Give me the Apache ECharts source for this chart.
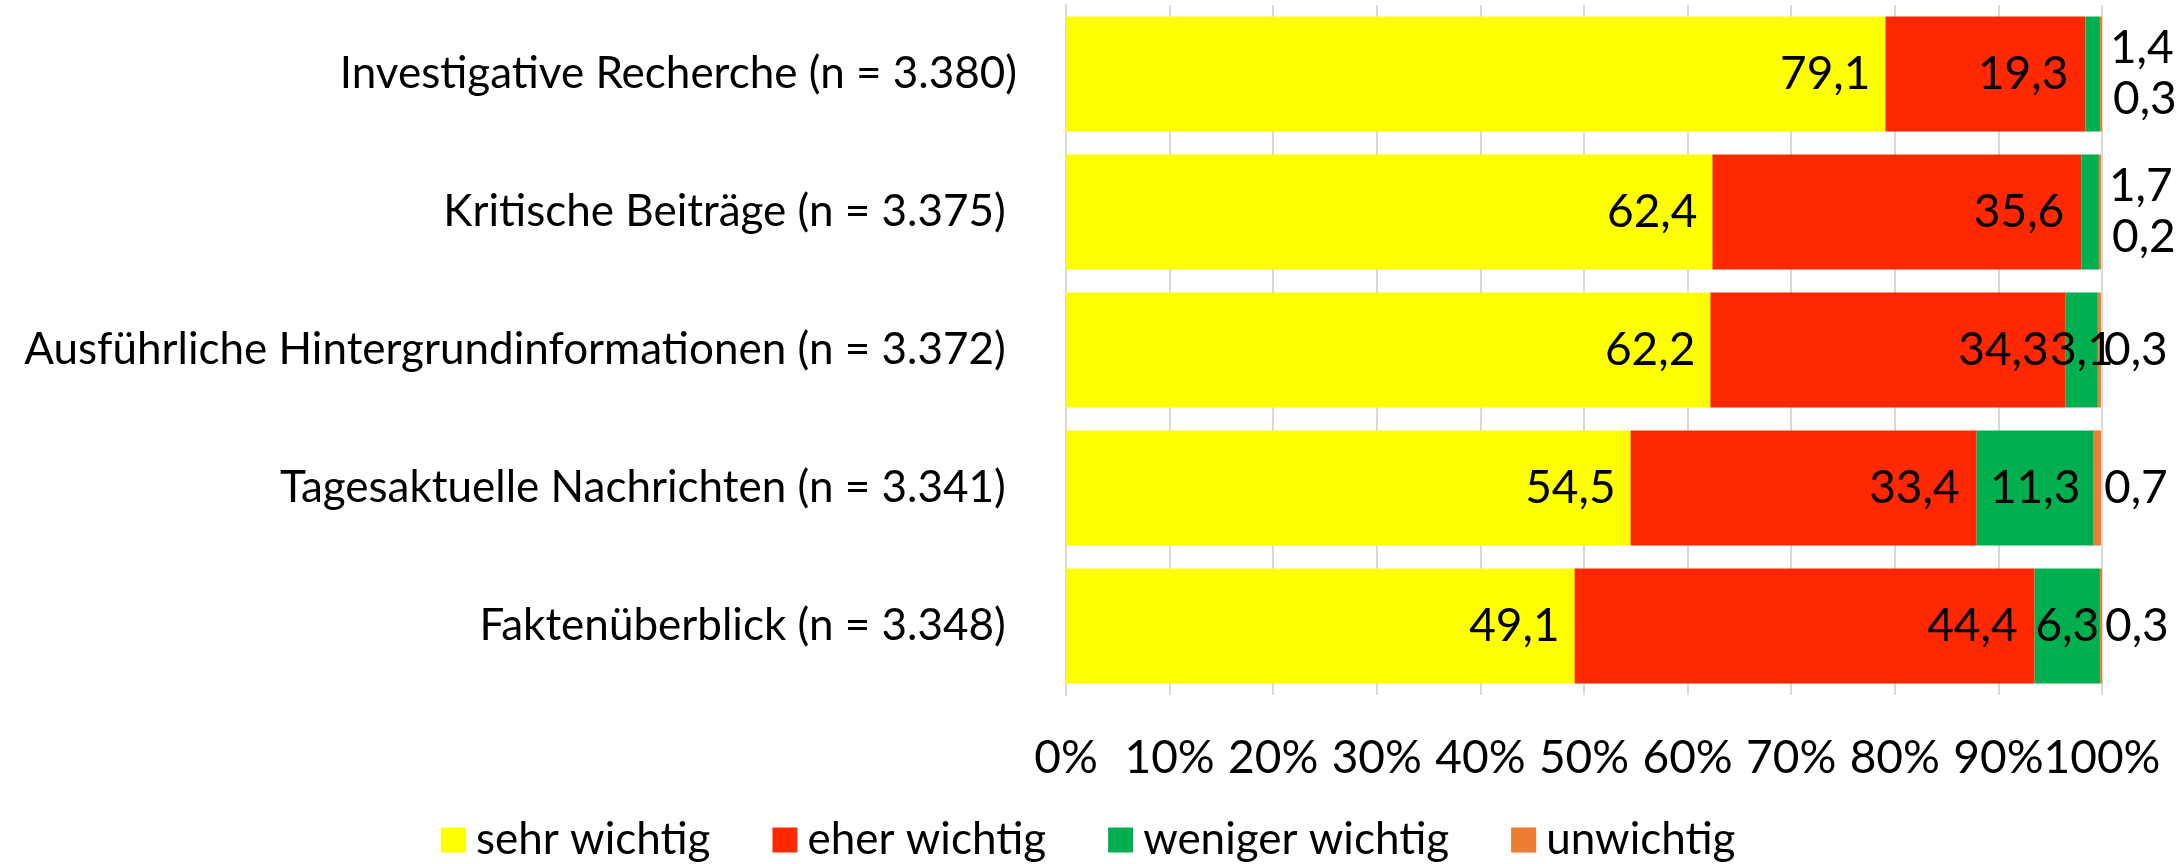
<!DOCTYPE html>
<html>
<head>
<meta charset="utf-8">
<script src="https://cdn.jsdelivr.net/npm/echarts@6/dist/echarts.min.js"></script>
<style>
  html, body { margin: 0; padding: 0; background: #fff; }
  #chart { width: 2184px; height: 864px; }
</style>
</head>
<body>
<div id="chart"></div>
<script>
// Kategorien (oben nach unten)
var categories = [
  'Investigative Recherche (n = 3.380)',
  'Kritische Beiträge (n = 3.375) ',
  'Ausführliche Hintergrundinformationen (n = 3.372) ',
  'Tagesaktuelle Nachrichten (n = 3.341) ',
  'Faktenüberblick (n = 3.348) '
]
var seriesNames = ['sehr wichtig', 'eher wichtig', 'weniger wichtig', 'unwichtig']
var sehrWichtig = [79.1, 62.4, 62.2, 54.5, 49.1]
var eherWichtig = [19.3, 35.6, 34.3, 33.4, 44.4]
var wenigerWichtig = [1.4, 1.7, 3.1, 11.3, 6.3]
var unwichtig = [0.3, 0.2, 0.3, 0.7, 0.3]
var xTicks = [0, 10, 20, 30, 40, 50, 60, 70, 80, 90, 100]

var FONT = 'Lato, sans-serif'
var colors = ['#FFFF00', '#FF2800', '#00B050', '#ED7D31']

function fmt(v) {
  return v.toFixed(1).replace('.', ',')
}

// kleine Segmente: Beschriftung rechts neben dem Balken
function greenData(arr) {
  return arr.map(function (v) {
    if (v < 2) {
      return { value: v, label: { position: 'right', distance: 10 } }
    }
    return v
  })
}

var myChart = echarts.init(document.getElementById('chart'))
var option = {
  animation: false,
  textStyle: { fontFamily: FONT, color: '#000' },
  color: colors,
  grid: { left: 1066, right: 82, top: 5, bottom: 169, containLabel: false, outerBoundsMode: 'none' },
  legend: {
    left: 436,
    top: 813,
    itemWidth: 25,
    itemHeight: 25,
    itemGap: 62,
    icon: 'rect',
    textStyle: { fontSize: 44, fontFamily: FONT, color: '#000', padding: [0, 0, 0, 5] },
    data: seriesNames
  },
  xAxis: {
    type: 'value',
    min: 0,
    max: 100,
    interval: 10,
    axisLine: { show: false },
    axisTick: { show: false },
    splitLine: { show: true, lineStyle: { color: '#D9D9D9', width: 2 } },
    axisLabel: {
      fontSize: 46,
      fontFamily: FONT,
      color: '#000',
      margin: 40,
      showMinLabel: true,
      showMaxLabel: true,
      hideOverlap: false,
      formatter: function (v) { return xTicks.indexOf(v) >= 0 ? v + '%' : '' }
    }
  },
  yAxis: {
    type: 'category',
    inverse: true,
    data: categories,
    axisLine: { show: true, lineStyle: { color: '#D9D9D9', width: 2 } },
    axisTick: { show: false },
    axisLabel: { fontSize: 44, fontFamily: FONT, color: '#000', margin: 49 }
  },
  series: [
    {
      name: seriesNames[0], type: 'bar', stack: 'total', barCategoryGap: '16.7%',
      label: { show: true, position: 'insideRight', distance: 15, fontSize: 46, color: '#000',
        formatter: function (p) { return fmt(p.value) } },
      data: sehrWichtig
    },
    {
      name: seriesNames[1], type: 'bar', stack: 'total',
      label: { show: true, position: 'insideRight', distance: 17, fontSize: 46, color: '#000',
        formatter: function (p) { return fmt(p.value) } },
      data: eherWichtig
    },
    {
      name: seriesNames[2], type: 'bar', stack: 'total',
      label: { show: true, position: 'inside', fontSize: 46, color: '#000',
        formatter: function (p) { return fmt(p.value) } },
      labelLayout: function (p) {
        return wenigerWichtig[p.dataIndex] < 2 ? { dy: -26 } : {}
      },
      data: greenData(wenigerWichtig)
    },
    {
      name: seriesNames[3], type: 'bar', stack: 'total',
      label: { show: true, position: 'right', distance: 3, fontSize: 46, color: '#000',
        formatter: function (p) { return fmt(p.value) } },
      labelLayout: function (p) {
        return wenigerWichtig[p.dataIndex] < 2 ? { dx: 8, dy: 25 } : {}
      },
      data: unwichtig
    }
  ]
}
myChart.setOption(option)
</script>
</body>
</html>
